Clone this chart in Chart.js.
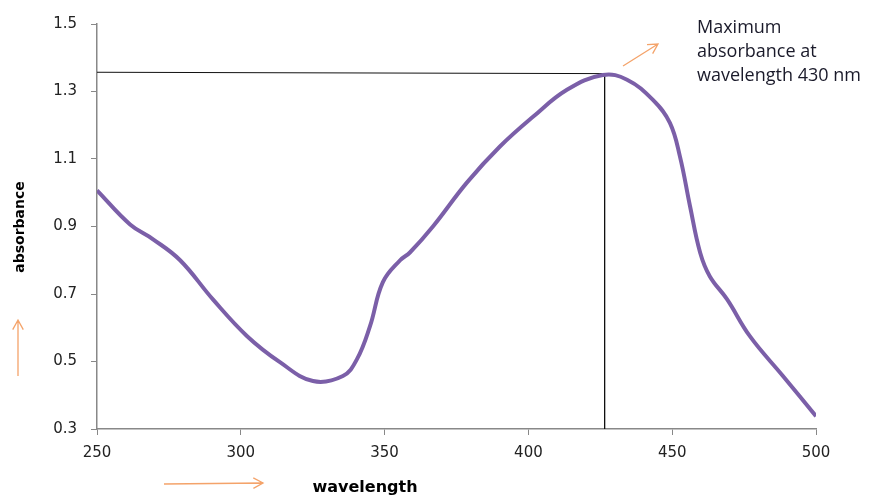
<!DOCTYPE html>
<html>
<head>
<meta charset="utf-8">
<script src="https://cdn.jsdelivr.net/npm/chart.js@4/dist/chart.umd.min.js"></script>
<style>
  html, body { margin: 0; padding: 0; background: #fff; }
  #wrap { width: 874px; height: 495px; }
</style>
</head>
<body>
<div id="wrap"><canvas id="spectrumChart" width="874" height="495"></canvas></div>
<script>
// Data
const wavelengths = [250, 261.5, 269.5, 278.9, 290.3, 302.2, 313.6, 325.1, 335.5, 340.4, 344.9, 349.4, 355.4, 358.8, 366.8, 378.6, 390.1, 401.6, 413.4, 425.9, 434.3, 443.3, 449.2, 452.7, 456.2, 459.7, 463.1, 469.1, 477.0, 488.5, 500];
const absorbance = [1.007, 0.906, 0.862, 0.800, 0.684, 0.575, 0.498, 0.442, 0.457, 0.507, 0.604, 0.735, 0.800, 0.823, 0.900, 1.030, 1.137, 1.225, 1.305, 1.349, 1.335, 1.275, 1.207, 1.107, 0.960, 0.823, 0.752, 0.684, 0.575, 0.457, 0.338];

// Guide lines marking the peak
const peakWavelength = 426.5;
const peakLevel = 1.353;

// Tick labels
const xTicks = [250, 300, 350, 400, 450, 500];
const yTicks = [0.3, 0.5, 0.7, 0.9, 1.1, 1.3, 1.5];

const annotationLines = ['Maximum', 'absorbance at', 'wavelength 430 nm'];

const curvePoints = wavelengths.map((w, i) => ({ x: w, y: absorbance[i] }));

// Draws axis titles, annotation text and the orange arrows
const decorations = {
    id: 'decorations',
    afterDraw(chart) {
        const ctx = chart.ctx;
        ctx.save();

        // axis titles
        ctx.fillStyle = '#000';
        ctx.textAlign = 'center';
        ctx.textBaseline = 'middle';
        ctx.font = 'bold 16px "DejaVu Sans", sans-serif';
        ctx.fillText('wavelength', 365, 488);
        ctx.font = 'bold 14px "DejaVu Sans", sans-serif';
        ctx.save();
        ctx.translate(20, 227);
        ctx.rotate(-Math.PI / 2);
        ctx.fillText('absorbance', 0, 0);
        ctx.restore();

        // annotation
        ctx.fillStyle = '#1a1a2a';
        ctx.font = '18px "Open Sans", sans-serif';
        ctx.textAlign = 'left';
        annotationLines.forEach((t, i) => ctx.fillText(t, 697, 28 + i * 24));

        // arrows
        ctx.strokeStyle = '#f4a36a';
        ctx.lineWidth = 1.3;
        arrow(ctx, 623, 66, 658, 44);
        arrow(ctx, 18, 376, 18, 320);
        arrow(ctx, 164, 484, 263, 483);
        ctx.restore();
    }
};

function arrow(ctx, x1, y1, x2, y2) {
    const a = Math.atan2(y2 - y1, x2 - x1);
    const h = 11;
    ctx.beginPath();
    ctx.moveTo(x1, y1);
    ctx.lineTo(x2, y2);
    ctx.moveTo(x2 - h * Math.cos(a - 0.5), y2 - h * Math.sin(a - 0.5));
    ctx.lineTo(x2, y2);
    ctx.lineTo(x2 - h * Math.cos(a + 0.5), y2 - h * Math.sin(a + 0.5));
    ctx.stroke();
}

const tickFont = { family: '"DejaVu Sans", sans-serif', size: 15 };

new Chart(document.getElementById('spectrumChart'), {
    type: 'line',
    data: {
        datasets: [
            {
                data: curvePoints,
                borderColor: '#7b5fa8',
                borderWidth: 4,
                pointRadius: 0,
                tension: 0.4,
                fill: false
            },
            {
                data: [{ x: 250, y: peakLevel + 0.004 }, { x: peakWavelength, y: peakLevel }],
                borderColor: '#111',
                borderWidth: 1,
                pointRadius: 0,
                tension: 0
            },
            {
                data: [{ x: peakWavelength, y: peakLevel }, { x: peakWavelength, y: 0.3 }],
                borderColor: '#111',
                borderWidth: 1,
                pointRadius: 0,
                tension: 0
            }
        ]
    },
    options: {
        responsive: false,
        animation: false,
        layout: { padding: { top: 24, right: 58, left: 0, bottom: 0 } },
        plugins: { legend: { display: false }, tooltip: { enabled: false } },
        scales: {
            x: {
                type: 'linear',
                min: 250,
                max: 500,
                afterBuildTicks: s => { s.ticks = xTicks.map(v => ({ value: v })); },
                afterFit: s => { s.height = 66; },
                border: { color: '#888', width: 1.5 },
                grid: { drawOnChartArea: false, drawTicks: true, tickLength: 6, color: '#888' },
                ticks: { color: '#222', font: tickFont, padding: 9, maxRotation: 0 }
            },
            y: {
                type: 'linear',
                min: 0.3,
                max: 1.5,
                afterBuildTicks: s => { s.ticks = yTicks.map(v => ({ value: v })); },
                afterFit: s => { s.width = 97; },
                border: { color: '#888', width: 1.5 },
                grid: { drawOnChartArea: false, drawTicks: true, tickLength: 6, color: '#888' },
                ticks: { color: '#222', font: tickFont, padding: 14, callback: v => v.toFixed(1) }
            }
        }
    },
    plugins: [decorations]
});
</script>
</body>
</html>
